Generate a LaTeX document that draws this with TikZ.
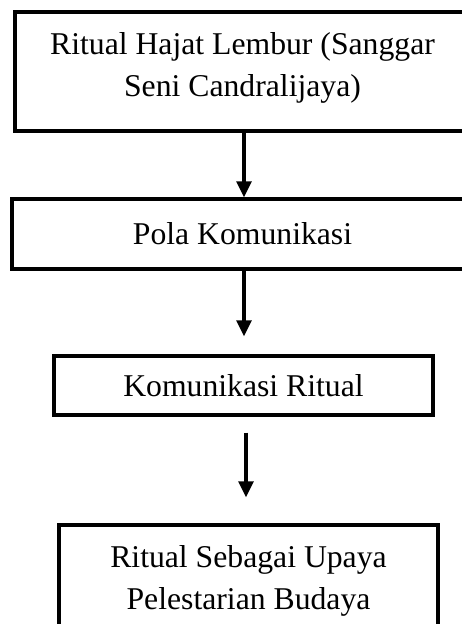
\documentclass[tikz,border=0pt]{standalone}
\usepackage{fontspec}
\setmainfont{Liberation Serif}
\usetikzlibrary{arrows.meta}
\begin{document}
\begin{tikzpicture}[x=1pt,y=1pt,
  box/.style={draw=black, line width=3.4pt, rectangle, inner sep=0pt, align=center,
    font=\fontsize{31.7pt}{42pt}\selectfont},
  arr/.style={line width=3.2pt, -{Triangle[length=16pt,width=15pt]}}]
\useasboundingbox (0,0) rectangle (462,624);
\clip (0,0) rectangle (462,624);
\fill[white] (0,0) rectangle (462,624);
\node[box, minimum width=455pt, minimum height=119pt, text depth=13pt] (b1) at (242.5,552.5)
  {Ritual Hajat Lembur (Sanggar\\Seni Candralijaya)};
\node[box, minimum width=461pt, minimum height=70pt] (b2) at (242.5,390) {Pola Komunikasi};
\node[box, minimum width=379pt, minimum height=59pt] (b3) at (243.5,238.5) {Komunikasi Ritual};
\node[box, minimum width=379pt, minimum height=111pt] (b4) at (248.5,43.5)
  {Ritual Sebagai Upaya\\Pelestarian Budaya};
\draw[arr] ([xshift=1.5pt]b1.south) -- ([xshift=1.5pt]b1.south |- b2.north);
\draw[arr, shorten >=18pt] ([xshift=1.5pt]b2.south) -- ([xshift=1.5pt]b2.south |- b3.north);
\draw[arr, shorten <=16pt, shorten >=26pt] ([xshift=2.5pt]b3.south) -- ([xshift=2.5pt]b3.south |- b4.north);
\end{tikzpicture}
\end{document}
